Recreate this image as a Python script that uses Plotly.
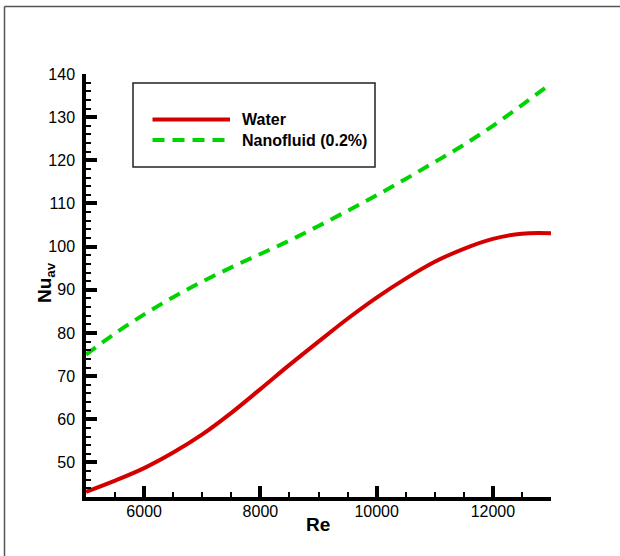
import plotly.graph_objects as go

re_vals = [5000, 5500, 6000, 6500, 7000, 7500, 8000, 8500, 9000, 9500,
           10000, 10500, 11000, 11500, 12000, 12500, 13000]
nu_water = [43.2, 45.8, 48.7, 52.3, 56.5, 61.5, 67.0, 72.6, 78.0, 83.3,
            88.2, 92.6, 96.5, 99.5, 101.8, 103.0, 103.1]
nu_nano = [75.0, 79.9, 84.3, 88.3, 91.9, 95.2, 98.3, 101.4, 104.8, 108.3,
           111.9, 115.7, 119.6, 123.6, 128.0, 132.8, 137.8]
x_ticks = [6000, 8000, 10000, 12000]
x_ticktext = ["6000", "8000", "10000", "12000"]
y_ticks = [50, 60, 70, 80, 90, 100, 110, 120, 130, 140]
series_names = ["Water", "Nanofluid (0.2%)"]

RED = "#D40000"
GREEN = "#00D400"
FONT = "Liberation Sans, Arial, sans-serif"

fig = go.Figure()
fig.add_trace(go.Scatter(x=re_vals, y=nu_water, mode="lines", name=series_names[0],
                         line=dict(color=RED, width=4, shape="spline")))
fig.add_trace(go.Scatter(x=re_vals, y=nu_nano, mode="lines", name=series_names[1],
                         line=dict(color=GREEN, width=4, shape="spline", dash="12px,8px")))

W, H = 620, 556
L, R, T, B = 86, 551, 74, 497
pw, ph = R - L, B - T

def px(x):
    return (x - L) / pw

def py(y):
    return (B - y) / ph

axis_common = dict(
    showline=True, linecolor="black", linewidth=3.5,
    ticks="inside", ticklen=11, tickwidth=4, tickcolor="black",
    showgrid=False, zeroline=False, mirror=False,
    tickfont=dict(family=FONT, size=16, color="black"),
)

fig.update_xaxes(range=[5000, 13000], tickvals=x_ticks, ticktext=x_ticktext,
                 ticklabelstandoff=-3,
                 minor=dict(ticks="inside", ticklen=5, tickwidth=1.5, dtick=500,
                            tick0=5000, tickcolor="black"),
                 **axis_common)
fig.update_yaxes(range=[42, 140], tickvals=y_ticks, ticklabelstandoff=4,
                 minor=dict(ticks="inside", ticklen=5, tickwidth=1.5, dtick=2,
                            tick0=42, tickcolor="black"),
                 **axis_common)

shapes = [
    # outer frame (top and left visible)
    dict(type="line", xref="paper", yref="paper", x0=px(4.5), x1=px(640),
         y0=py(6.5), y1=py(6.5), line=dict(color="#555555", width=1.5)),
    dict(type="line", xref="paper", yref="paper", x0=px(4.5), x1=px(4.5),
         y0=py(6.5), y1=py(600), line=dict(color="#555555", width=1.5)),
    # legend box
    dict(type="rect", xref="paper", yref="paper", x0=px(133), x1=px(375),
         y0=py(167), y1=py(83), line=dict(color="#222222", width=1.5),
         fillcolor="white", layer="above"),
    dict(type="line", xref="paper", yref="paper", x0=px(152.5), x1=px(230),
         y0=py(119.5), y1=py(119.5), line=dict(color=RED, width=4), layer="above"),
    dict(type="line", xref="paper", yref="paper", x0=px(152.5), x1=px(230),
         y0=py(140), y1=py(140), line=dict(color=GREEN, width=4, dash="12px,8px"),
         layer="above"),
]

annotations = [
    dict(text="<b>" + series_names[0] + "</b>", xref="paper", yref="paper",
         x=px(240), y=py(119.5), xanchor="left", yanchor="middle", showarrow=False,
         font=dict(family=FONT, size=16, color="black")),
    dict(text="<b>" + series_names[1] + "</b>", xref="paper", yref="paper",
         x=px(240), y=py(140), xanchor="left", yanchor="middle", showarrow=False,
         font=dict(family=FONT, size=16, color="black")),
    dict(text="<b>Re</b>", xref="paper", yref="paper", x=px(318), y=py(524),
         xanchor="center", yanchor="middle", showarrow=False,
         font=dict(family=FONT, size=19, color="black")),
    dict(text="<b>Nu<sub>av</sub></b>", xref="paper", yref="paper", x=px(46), y=py(283),
         xanchor="center", yanchor="middle", showarrow=False, textangle=-90,
         font=dict(family=FONT, size=19, color="black")),
]

fig.update_layout(
    width=W, height=H,
    margin=dict(l=L, r=W - R, t=T, b=H - B, pad=0),
    plot_bgcolor="white", paper_bgcolor="white",
    showlegend=False,
    shapes=shapes, annotations=annotations,
)

fig.write_html("out.html")
